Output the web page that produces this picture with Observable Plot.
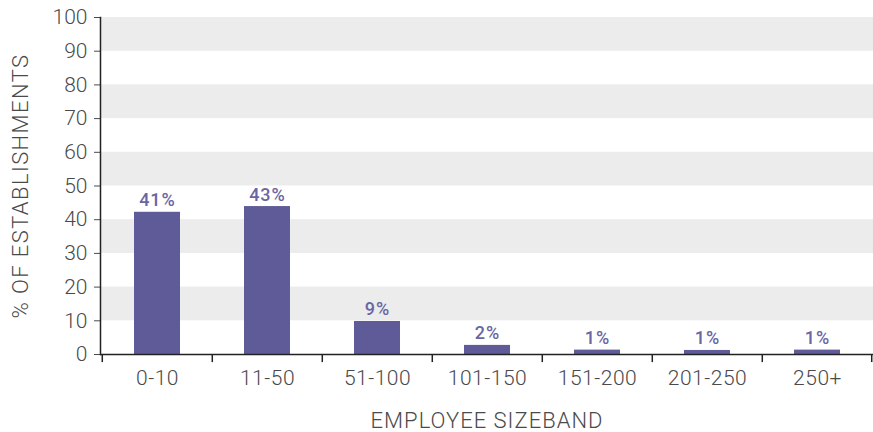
<!DOCTYPE html>
<html><head><meta charset="utf-8">
<script src="https://cdn.jsdelivr.net/npm/d3@7"></script>
<script src="https://cdn.jsdelivr.net/npm/@observablehq/plot@0.6"></script>
<style>body{margin:0;background:#fff}</style>
</head><body><div id="chart"></div>
<script>
const categories = ["0-10","11-50","51-100","101-150","151-200","201-250","250+"];
const values = [42.2, 43.9, 9.8, 2.7, 1.3, 1.2, 1.3];
const valueLabels = ["41%","43%","9%","2%","1%","1%","1%"];
const bandStarts = [10, 30, 50, 70, 90];
const yTicks = [0,10,20,30,40,50,60,70,80,90,100];

const data = categories.map((c,i)=>({cat:c, v:values[i], label:valueLabels[i]}));
const W = 873, ML = 100, MR = 0;
const step = (W - ML - MR) / categories.length;
const font = "Roboto, 'DejaVu Sans', sans-serif";

const chart = Plot.plot({
  width: W, height: 432,
  marginLeft: ML, marginRight: MR, marginTop: 17, marginBottom: 78,
  style: {fontFamily: font, background: "#fff", fontSize: "21px"},
  x: {domain: categories, padding: 0},
  y: {domain: [0,100]},
  marks: [
    Plot.rect(bandStarts, {y1: d=>d, y2: d=>d+10, fill: "#ececec"}),
    Plot.barY(data, {x: "cat", y: "v", fill: "#5f5b99", insetLeft: 32, insetRight: 32}),
    Plot.text(data, {x: "cat", y: "v", text: "label", dy: -6, lineAnchor: "bottom",
      fill: "#6a66a3", fontWeight: 500, fontSize: 18}),
    Plot.ruleX(categories, {x: d=>d, y1: 0, y2: -2.4, dx: -step/2, stroke: "#222", strokeWidth: 1.5, clip: false}),
    Plot.ruleX(categories.slice(-1), {x: d=>d, y1: 0, y2: -2.4, dx: step/2 - 1, stroke: "#222", strokeWidth: 1.5}),
    Plot.axisY({ticks: yTicks, tickSize: 6, tickPadding: 7, color: "#4a4a4a",
      label: "% OF ESTABLISHMENTS", labelAnchor: "center", labelOffset: 88, labelArrow: "none"}),
    Plot.axisX({tickSize: 0, tickPadding: 16, color: "#4a4a4a",
      label: "EMPLOYEE SIZEBAND", labelAnchor: "center", labelOffset: 73, labelArrow: "none"}),
    Plot.ruleY([0], {stroke: "#222", strokeWidth: 1.5}),
    Plot.frame({anchor: "left", stroke: "#222", strokeWidth: 1.5})
  ]
});
const svg = d3.select(chart);
svg.selectAll("text").each(function(){
  const t = this.textContent;
  const s = d3.select(this);
  if (t === "% OF ESTABLISHMENTS") {
    s.style("font-size","22px").style("fill","#4a4a4a").style("font-weight","300").style("letter-spacing","1.4px");
  } else if (t === "EMPLOYEE SIZEBAND") {
    s.style("font-size","22px").style("fill","#4a4a4a").style("font-weight","300").style("letter-spacing","1px");
  } else if (categories.includes(t)) {
    s.style("letter-spacing","0.5px").style("font-weight","300");
  } else if (valueLabels.includes(t)) {
    s.style("letter-spacing","1px");
  } else {
    s.style("font-weight","300");
  }
});
document.getElementById("chart").appendChild(chart);
</script>
</body></html>
